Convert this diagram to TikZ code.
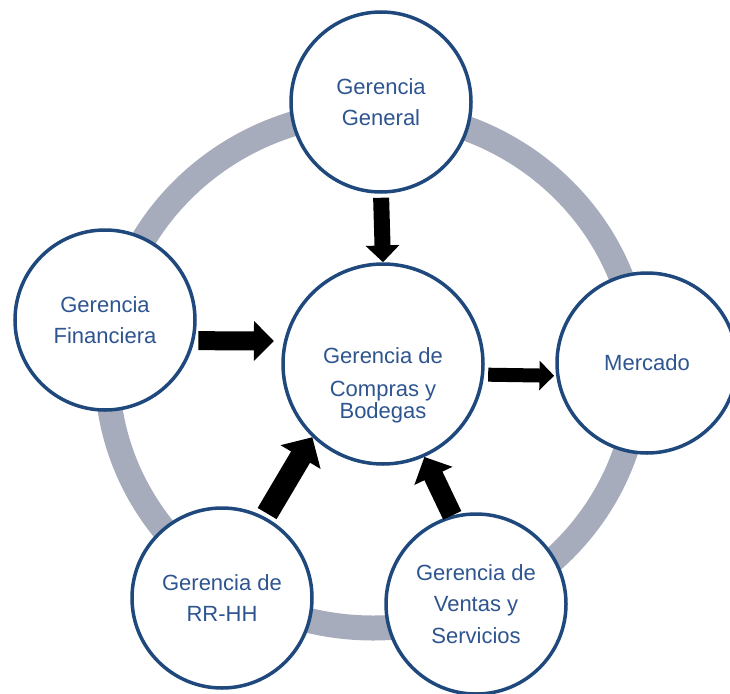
\documentclass[tikz,border=0pt]{standalone}
\usepackage{fontspec}
\setmainfont{Liberation Sans}
\usepackage{xcolor}
\usetikzlibrary{arrows.meta}
\definecolor{C0}{HTML}{1F497D}
\definecolor{C1}{HTML}{2E5590}
\definecolor{C2}{HTML}{A6ACBB}

\begin{document}
\begin{tikzpicture}[x=1pt,y=-1pt]
\tikzstyle{dep}=[draw=C0,fill=white,line width=3.5pt,shape=circle,minimum size=180pt,inner sep=0pt,text=C1,align=center,font=\fontsize{22}{31.5}\selectfont]
\tikzstyle{flow}=[black,line width=#1,-{Triangle[width=0pt 2.05,length=0pt 1.05]}]
\clip (0,0) rectangle (730,693);
%
\draw[C2,line width=25pt] (373,370) ellipse (266 and 258);
%
\node[dep](general) at (381,102){Gerencia\\General};
\node[dep](financiera) at (105,320){Gerencia\\Financiera};
\node[dep](mercado) at (647,363){Mercado};
\node[dep](rrhh) at (222,598){Gerencia de\\RR-HH};
\node[dep](ventas) at (476,604){Gerencia de\\Ventas y\\Servicios};
\node[dep,minimum size=200pt](compras) at (383,364){};
\node[text=C1,align=center,font=\fontsize{22}{31.5}\selectfont](comprastxt) at (383,385){Gerencia de\\[2pt]Compras y\\[-10pt]Bodegas};
%
\draw[flow=16pt,shorten <=4pt] (general.-90) -- (compras.90);
\draw[flow=19pt,shorten <=4pt,shorten >=10pt] (financiera.-13) -- (compras.167);
\draw[flow=14pt,shorten <=4pt,shorten >=2pt] (compras.-6) -- (mercado.188);
\draw[flow=22pt,shorten <=4pt] (rrhh.62) -- (compras.226);
\draw[flow=20pt] (ventas.105) -- (compras.294);
\end{tikzpicture}
\end{document}
